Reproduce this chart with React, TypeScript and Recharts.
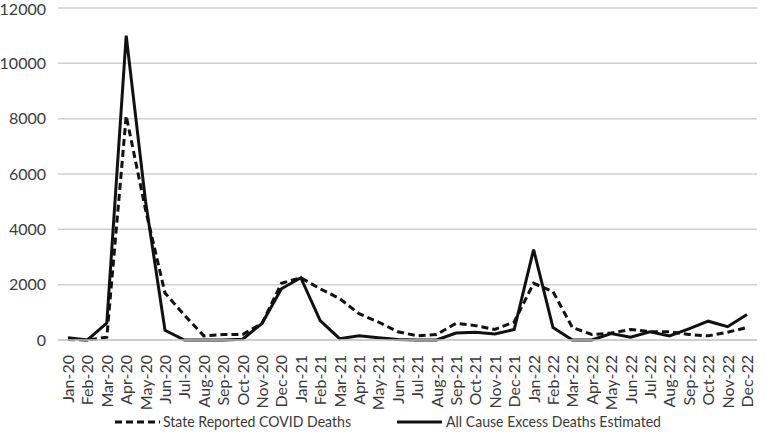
import React, { useEffect } from 'react';
import { LineChart, Line, XAxis, YAxis, CartesianGrid, Legend } from 'recharts';

const months = [
  'Jan-20', 'Feb-20', 'Mar-20', 'Apr-20', 'May-20', 'Jun-20', 'Jul-20', 'Aug-20', 'Sep-20', 'Oct-20', 'Nov-20', 'Dec-20',
  'Jan-21', 'Feb-21', 'Mar-21', 'Apr-21', 'May-21', 'Jun-21', 'Jul-21', 'Aug-21', 'Sep-21', 'Oct-21', 'Nov-21', 'Dec-21',
  'Jan-22', 'Feb-22', 'Mar-22', 'Apr-22', 'May-22', 'Jun-22', 'Jul-22', 'Aug-22', 'Sep-22', 'Oct-22', 'Nov-22', 'Dec-22'
];

const stateReported = [
  20, 0, 100, 8100, 4700, 1700, 900, 150, 200, 200, 600, 2050,
  2250, 1850, 1500, 950, 650, 300, 150, 200, 600, 520, 380, 650,
  2050, 1750, 450, 200, 250, 380, 300, 300, 200, 150, 280, 450
];

const excessEstimated = [
  80, 0, 610, 11000, 5000, 350, 0, 0, 0, 30, 600, 1850,
  2250, 700, 50, 150, 80, 20, 0, 0, 250, 280, 220, 380,
  3270, 450, 0, 0, 230, 100, 300, 150, 400, 680, 480, 920
];

const yTicks = [0, 2000, 4000, 6000, 8000, 10000, 12000];

const data = months.map((m, i) => ({ month: m, state: stateReported[i], excess: excessEstimated[i] }));

const font = 'Lato, "Open Sans", sans-serif';
const textColor = '#3a3a3a';

const MonthTick = (props: any) => {
  const { x, y, payload } = props;
  return (
    <text
      x={0}
      y={0}
      transform={`translate(${x + 6},${y + 7}) rotate(-90)`}
      textAnchor="end"
      fontSize={16}
      fontFamily={font}
      fill={textColor}
    >
      {payload.value}
    </text>
  );
};

const LegendBox = () => (
  <svg width={767} height={24} style={{ display: 'block' }}>
    <line x1={115} y1={12} x2={160} y2={12} stroke="#111" strokeWidth={3} strokeDasharray="7 4" />
    <text x={163} y={17} fontSize={16} fontFamily={font} fill={textColor} textLength={188} lengthAdjust="spacingAndGlyphs">
      State Reported COVID Deaths
    </text>
    <line x1={397} y1={12} x2={442} y2={12} stroke="#111" strokeWidth={3} />
    <text x={446} y={17} fontSize={16} fontFamily={font} fill={textColor} textLength={215} lengthAdjust="spacingAndGlyphs">
      All Cause Excess Deaths Estimated
    </text>
  </svg>
);

const App = () => {
  useEffect(() => {
    document.body.style.margin = '0';
  }, []);
  return (
    <div style={{ width: 767, height: 434, background: '#fff' }}>
      <LineChart width={767} height={434} data={data} margin={{ top: 8, right: 10, left: 8, bottom: 0 }}>
        <CartesianGrid vertical={false} stroke="#d0d0d0" strokeWidth={1.5} />
        <XAxis
          dataKey="month"
          interval={0}
          tick={<MonthTick />}
          tickLine={false}
          axisLine={{ stroke: '#c8c8c8', strokeWidth: 1.5 }}
          padding={{ left: 10, right: 10 }}
          height={70}
        />
        <YAxis
          domain={[0, 12000]}
          ticks={yTicks}
          width={50}
          tickLine={false}
          axisLine={false}
          tick={{ fontSize: 16, fontFamily: font, fill: textColor }}
          tickMargin={6}
        />
        <Legend verticalAlign="bottom" content={() => <LegendBox />} wrapperStyle={{ left: 0, bottom: 0 }} />
        <Line
          dataKey="state"
          stroke="#111"
          strokeWidth={3}
          strokeDasharray="7 4"
          dot={false}
          isAnimationActive={false}
        />
        <Line dataKey="excess" stroke="#111" strokeWidth={3} dot={false} isAnimationActive={false} />
      </LineChart>
    </div>
  );
};

export default App;
